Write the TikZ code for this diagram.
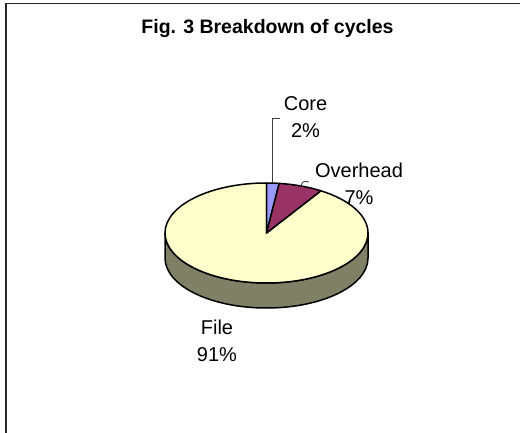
\documentclass[tikz,border=0pt]{standalone}
\usepackage{fontspec}
\setmainfont{Liberation Sans}
\usetikzlibrary{calc}
\definecolor{coreblue}{HTML}{9999FF}
\definecolor{overheadplum}{HTML}{993366}
\definecolor{fileyellow}{HTML}{FFFFCC}
\definecolor{fileside}{HTML}{808066}
\definecolor{leadergrey}{HTML}{404040}
\tikzset{
  slice/.style={draw=black, line width=1.5pt, line join=round},
  disc/.style={x radius=101.5pt, y radius=50pt},
  leader/.style={draw=leadergrey, line width=0.9pt},
  datalabel/.style={inner sep=0pt, anchor=south, align=center,
    font=\fontsize{20}{27}\selectfont},
  frame/.style={draw=black!85, line width=1.6pt},
}
\begin{document}
\begin{tikzpicture}[x=1pt, y=1pt]
  \useasboundingbox (0,0) rectangle (520,432);
  % chart frame (only left and top edges lie inside the page)
  \draw[frame] (6,-5) -- (6,428.5) -- (530,428.5);

  % title
  \node[anchor=base, inner sep=0pt, font=\fontsize{19.5}{24}\selectfont\bfseries]
    (title) at (267.5,398) {Fig. 3 Breakdown of cycles};

  \coordinate (C) at (266.5,199);

  % side wall of the disc
  \filldraw[slice, fill=fileside] (C) ++(180:101.5pt and 50pt)
    arc[start angle=180, end angle=360, disc]
    -- ++(0,-25)
    arc[start angle=360, end angle=180, disc]
    -- cycle;

  % top face slices
  \filldraw[slice, fill=fileyellow] (C) -- ++(90:101.5pt and 50pt)
    arc[start angle=90, end angle=417.6, disc] -- cycle;
  \filldraw[slice, fill=coreblue] (C) -- ++(82.8:101.5pt and 50pt)
    arc[start angle=82.8, end angle=90, disc] -- cycle;
  \filldraw[slice, fill=overheadplum] (C) -- ++(57.6:101.5pt and 50pt)
    arc[start angle=57.6, end angle=82.8, disc] -- cycle;

  % data labels
  \node[datalabel] (core) at (305.5,294) {Core\\2\%};
  \node[datalabel] (overhead) at (359,227) {Overhead\\7\%};
  \node[datalabel] (file) at (217,70) {File\\91\%};

  % leader lines
  \coordinate (coreedge) at ($(C)+(86.4:101.5pt and 50pt)$);
  \coordinate (coretick) at (280,314);
  \draw[leader] (coreedge) |- (coretick);
  \coordinate (ovedge) at ($(C)+(70.2:101.5pt and 50pt)$);
  \coordinate (ovtick) at (309,250);
  \draw[leader] (ovedge) .. controls (303,251) .. (ovtick);
\end{tikzpicture}
\end{document}
